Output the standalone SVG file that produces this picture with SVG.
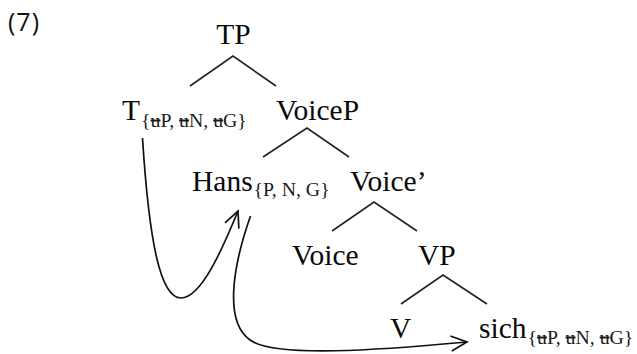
<svg xmlns="http://www.w3.org/2000/svg" width="637" height="354" viewBox="0 0 637 354">
<style>
.lab{font-family:"Liberation Serif","Times New Roman",serif;font-size:29.5px;fill:#0a0a0a}
.sub{font-family:"Liberation Serif","Times New Roman",serif;font-size:19.8px;fill:#1a1a1a}
.st{text-decoration:line-through}
.num{font-family:"Open Sans","Liberation Sans",sans-serif;font-size:25px;fill:#111}
.br{fill:none;stroke:#222;stroke-width:1.6;stroke-linejoin:miter}
.arr{fill:none;stroke:#111;stroke-width:1.7;marker-end:url(#open)}
</style>
<defs>
<marker id="open" markerUnits="userSpaceOnUse" orient="auto" markerWidth="24" markerHeight="24" refX="0" refY="0" viewBox="-20 -12 24 24" overflow="visible">
<path d="M-16,-7.5 L0,0 L-16,7.5" fill="none" stroke="#111" stroke-width="1.7"/>
</marker>
</defs>
<text class="num" x="8" y="31" letter-spacing="1">(7)</text>
<g id="connectors">
<path class="br" d="M190,86 L233,56 L276,86"/>
<path class="br" d="M263,157 L307,128 L349,157"/>
<path class="br" d="M332,231 L374,202 L417,231"/>
<path class="br" d="M401,304 L443,275 L487,304"/>
<path class="arr" d="M142.5,138 C149,240 160,298 181,298 C201,298 222,250 238,211"/>
<path class="arr" d="M250.5,216 C235,260 222,320 250,340 C275,358 380,350 467,342"/>
</g>
<g id="TP"><text class="lab" x="233.5" y="43.5" text-anchor="middle">TP</text></g>
<g id="T"><text class="lab" x="122" y="120">T</text><text class="sub" x="141" y="126.5">{<tspan class="st">u</tspan>P, <tspan class="st">u</tspan>N, <tspan class="st">u</tspan>G}</text></g>
<g id="VoiceP"><text class="lab" x="276" y="120">VoiceP</text></g>
<g id="Hans"><text class="lab" x="192" y="190.5">Hans</text><text class="sub" x="253.5" y="196">{P, N, G}</text></g>
<g id="VoiceBar"><text class="lab" x="350" y="190.5">Voice’</text></g>
<g id="Voice"><text class="lab" x="292" y="265">Voice</text></g>
<g id="VP"><text class="lab" x="418" y="265">VP</text></g>
<g id="V"><text class="lab" x="390" y="338">V</text></g>
<g id="sich"><text class="lab" x="479" y="338">sich</text><text class="sub" x="527.5" y="343.5">{<tspan class="st">u</tspan>P, <tspan class="st">u</tspan>N, <tspan class="st">u</tspan>G}</text></g>
</svg>
